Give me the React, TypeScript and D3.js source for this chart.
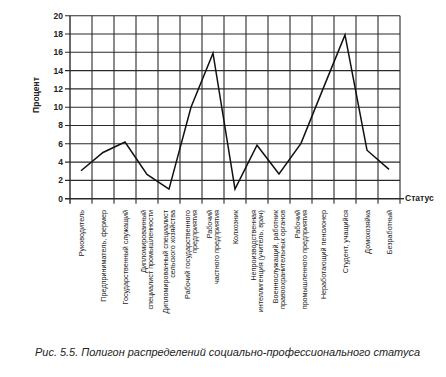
import React from "react";
import * as d3 from "d3";

const categories: string[][] = [
  ["Руководитель"],
  ["Предприниматель, фермер"],
  ["Государственный служащий"],
  ["Дипломированный", "специалист промышленности"],
  ["Дипломированный специалист", "сельского хозяйства"],
  ["Рабочий государственного", "предприятия"],
  ["Рабочий", "частного предприятия"],
  ["Колхозник"],
  ["Непроизводственная", "интеллигенция (учитель, врач)"],
  ["Военнослужащий, работник", "правоохранительных органов"],
  ["Рабочий", "промышленного предприятия"],
  ["Неработающий пенсионер"],
  ["Студент, учащийся"],
  ["Домохозяйка"],
  ["Безработный"],
];
const values: number[] = [3.05, 5.05, 6.2, 2.65, 1.05, 10, 15.9, 1.05, 5.85, 2.7, 6.05, 12, 17.9, 5.3, 3.2];
const yTicks: number[] = [0, 2, 4, 6, 8, 10, 12, 14, 16, 18, 20];
const yLabel = "Процент";
const xLabel = "Статус";
const caption = "Рис. 5.5. Полигон распределений социально-профессионального статуса";

const W = 446;
const H = 377;
const left = 70;
const right = 400;
const top = 15.7;
const bottom = 198.7;

export default function App() {
  const ids = categories.map((_, i) => String(i));
  const x = d3.scaleBand<string>().domain(ids).range([left, right]).padding(0);
  const y = d3.scaleLinear().domain([0, 20]).range([bottom, top]);
  const line = d3
    .line<number>()
    .x((_, i) => (x(String(i)) as number) + x.bandwidth() / 2)
    .y((d) => y(d));
  const font = "'Liberation Sans', Arial, sans-serif";
  const gridX = ids.map((id) => x(id) as number).concat([right]);

  return (
    <svg width={W} height={H} style={{ position: "absolute", left: 0, top: 0, background: "#fff" }} fontFamily={font}>
      <rect x={0} y={0} width={W} height={H} fill="#fff" />
      {yTicks.map((t) => (
        <line key={"h" + t} x1={left - 5} x2={right} y1={y(t)} y2={y(t)} stroke="#2a2a2a" strokeWidth={t === 0 ? 1.4 : 1.1} />
      ))}
      {gridX.map((gx, i) => (
        <line key={"v" + i} x1={gx} x2={gx} y1={top} y2={bottom + 5} stroke="#2a2a2a" strokeWidth={i === 0 ? 1.4 : 1.1} />
      ))}
      <line x1={right} x2={right + 4} y1={y(0)} y2={y(0)} stroke="#2a2a2a" strokeWidth={1.4} />
      {yTicks.map((t) => (
        <text key={"t" + t} x={63} y={y(t)} dy="0.35em" textAnchor="end" fontSize={8.5} fontWeight="bold" fill="#222">
          {t}
        </text>
      ))}
      <text transform={`translate(36,95) rotate(-90)`} textAnchor="middle" dy="0.35em" fontSize={8.5} fontWeight="bold" fill="#222">
        {yLabel}
      </text>
      <text x={405} y={y(0) - 1} dy="0.35em" fontSize={8.5} fontWeight="bold" fill="#222">
        {xLabel}
      </text>
      {categories.map((lines, i) => {
        const cx = (x(String(i)) as number) + x.bandwidth() / 2;
        const offs = lines.length === 1 ? [0.5] : [-3.5, 3.5];
        return lines.map((ln, j) => (
          <text
            key={"c" + i + "-" + j}
            transform={`translate(${cx + offs[j]},210) rotate(-90)`}
            textAnchor="end"
            dy="0.35em"
            fontSize={7.2}
            fill="#222"
          >
            {ln}
          </text>
        ));
      })}
      <path d={line(values) || ""} fill="none" stroke="#111" strokeWidth={1.5} strokeLinejoin="miter" />
      <text x={35} y={352} dy="0.35em" fontSize={10.5} fontStyle="italic" fill="#222" textLength={385} lengthAdjust="spacingAndGlyphs">
        {caption}
      </text>
    </svg>
  );
}
